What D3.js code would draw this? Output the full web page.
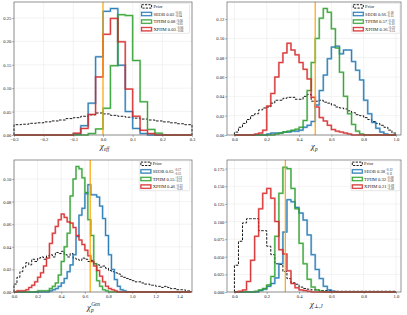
<!DOCTYPE html>
<html><head><meta charset="utf-8">
<script src="https://cdn.jsdelivr.net/npm/d3@7"></script>
<style>body{margin:0;background:#fff} svg{display:block}</style>
</head><body>
<svg id="chart" width="407" height="315"></svg>
<script>
// bin width shared by every histogram
var BIN = 0.025;

// chi_eff, 24 bins from -0.3
var effPrior = [0.022,0.023,0.025,0.026,0.028,0.030,0.032,0.035,0.037,0.040,0.043,0.047,0.045,0.042,0.040,0.038,0.036,0.034,0.032,0.030,0.028,0.026,0.024,0.022];
var effSEOB  = [0,0,0,0,0,0,0,0,0.002,0.020,0.068,0.167,0.264,0.270,0.149,0.050,0.014,0.003,0,0,0,0,0,0];
var effTPHM  = [0,0,0,0,0,0,0,0,0,0,0.003,0.013,0.057,0.148,0.257,0.255,0.159,0.071,0.012,0.004,0,0,0,0];
var effXPHM  = [0,0,0,0,0,0,0,0,0.004,0.014,0.044,0.124,0.215,0.249,0.199,0.098,0.040,0.010,0.003,0,0,0,0,0];
var effLabels = [["SEOB","0.02","+0.05","\u22120.04"],["TPHM","0.08","+0.06","\u22120.05"],["XPHM","0.03","+0.06","\u22120.06"]];

// chi_p, 40 bins from 0
var chipPrior = [0.003,0.008,0.012,0.016,0.020,0.022,0.026,0.028,0.029,0.033,0.036,0.036,0.038,0.039,0.039,0.037,0.037,0.040,0.042,0.035,0.035,0.036,0.034,0.033,0.031,0.029,0.028,0.027,0.025,0.023,0.021,0.020,0.018,0.016,0.014,0.012,0.010,0.008,0.005,0.002];
var chipSEOB  = [0,0,0,0,0,0,0,0,0.001,0.002,0.002,0.002,0.003,0.003,0.004,0.004,0.005,0.008,0.010,0.014,0.031,0.046,0.062,0.079,0.091,0.092,0.084,0.088,0.088,0.076,0.067,0.057,0.036,0.022,0.013,0.007,0.003,0.001,0,0];
var chipTPHM  = [0,0,0,0,0,0,0,0,0,0,0.001,0.002,0.003,0.004,0.005,0.006,0.008,0.015,0.046,0.075,0.100,0.121,0.131,0.127,0.110,0.090,0.065,0.040,0.022,0.011,0.004,0.001,0,0,0,0,0,0,0,0];
var chipXPHM  = [0,0,0,0,0,0.001,0.002,0.005,0.030,0.043,0.060,0.075,0.085,0.095,0.088,0.083,0.075,0.068,0.058,0.039,0.029,0.018,0.0145,0.010,0.0056,0.004,0.003,0.002,0.001,0,0,0,0,0,0,0,0,0,0,0];
var chipLabels = [["SEOB","0.66","+0.18","\u22120.15"],["TPHM","0.57","+0.10","\u22120.10"],["XPHM","0.36","+0.22","\u22120.15"]];

// chi_p^Gen, 60 bins from 0
var genPrior = [0.007,0.013,0.018,0.022,0.026,0.024,0.029,0.027,0.030,0.031,0.029,0.032,0.033,0.031,0.035,0.034,0.036,0.033,0.031,0.034,0.030,0.029,0.028,0.030,0.029,0.027,0.028,0.025,0.024,0.022,0.023,0.021,0.019,0.018,0.017,0.016,0.014,0.013,0.012,0.011,0.010,0.009,0.009,0.008,0.007,0.007,0.006,0.006,0.005,0.005,0.004,0.005,0.004,0.003,0.003,0.002,0.002,0.002,0.001,0.001];
var genSEOB  = [0,0,0,0,0,0,0,0,0,0,0,0,0.001,0.002,0.003,0.005,0.008,0.012,0.018,0.024,0.033,0.049,0.068,0.074,0.087,0.095,0.086,0.086,0.084,0.076,0.065,0.050,0.033,0.020,0.011,0.005,0.002,0.001,0,0,0,0,0,0,0,0,0,0,0,0,0,0,0,0,0,0,0,0,0,0];
var genTPHM  = [0,0,0,0,0,0,0,0,0.001,0.001,0.001,0.001,0.003,0.005,0.008,0.015,0.027,0.040,0.052,0.085,0.100,0.111,0.109,0.101,0.088,0.064,0.050,0.025,0.010,0.005,0.002,0.001,0,0,0,0,0,0,0,0,0,0,0,0,0,0,0,0,0,0,0,0,0,0,0,0,0,0,0,0];
var genXPHM  = [0,0.001,0.001,0.001,0.002,0.004,0.006,0.009,0.013,0.017,0.023,0.030,0.043,0.052,0.058,0.064,0.069,0.066,0.062,0.061,0.057,0.050,0.046,0.042,0.037,0.032,0.027,0.023,0.019,0.014,0.009,0.005,0.003,0.002,0.001,0,0,0,0,0,0,0,0,0,0,0,0,0,0,0,0,0,0,0,0,0,0,0,0,0];
var genLabels = [["SEOB","0.65","+0.17","\u22120.15"],["TPHM","0.55","+0.12","\u22120.11"],["XPHM","0.46","+0.23","\u22120.20"]];

// chi_perp,J, 40 bins from 0
var perpPrior = [0.038,0.072,0.098,0.104,0.104,0.104,0.087,0.087,0.065,0.053,0.040,0.039,0.029,0.019,0.013,0.011,0.007,0.005,0.004,0.003,0.003,0.002,0.002,0.002,0.001,0.001,0.001,0.001,0.001,0.001,0.001,0.001,0.001,0.001,0.001,0.001,0.001,0.001,0.001,0.001];
var perpSEOB  = [0,0,0,0,0,0,0.002,0.004,0.008,0.012,0.020,0.040,0.085,0.131,0.128,0.120,0.112,0.102,0.081,0.053,0.032,0.019,0.008,0.003,0.001,0,0,0,0,0,0,0,0,0,0,0,0,0,0,0];
var perpTPHM  = [0,0,0,0,0,0.001,0.003,0.005,0.010,0.022,0.079,0.140,0.177,0.175,0.147,0.118,0.069,0.040,0.018,0.007,0.003,0.001,0,0,0,0,0,0,0,0,0,0,0,0,0,0,0,0,0,0];
var perpXPHM  = [0,0.001,0.003,0.015,0.045,0.079,0.118,0.140,0.147,0.133,0.100,0.060,0.054,0.030,0.012,0.006,0.003,0.002,0.001,0,0,0,0,0,0,0,0,0,0,0,0,0,0,0,0,0,0,0,0,0];
var perpLabels = [["SEOB","0.38","+0.12","\u22120.11"],["TPHM","0.32","+0.08","\u22120.08"],["XPHM","0.21","+0.09","\u22120.09"]];

// injected values (orange lines)
var truths = [0.0, 0.5, 0.645, 0.315];

var colors = ["#1f77b4", "#2ca02c", "#d62728"];
var SERIF = "'Liberation Serif','DejaVu Serif',serif";

var panels = [
  {box:[14,192,2,135], xd:[-0.3,0.3], yd:[0,0.284], lo:-0.3, xt:[-0.3,-0.2,-0.1,0,0.1,0.2,0.3], xf:".1f",
   yt:[0,0.05,0.1,0.15,0.2,0.25], yf:".2f", prior:effPrior, series:[effSEOB,effTPHM,effXPHM], labels:effLabels,
   truth:truths[0], sub:"eff", sup:null, lab:[103,149.3], lg:[140,3.3,49.5]},
  {box:[227,401,2,135], xd:[-0.046,1.031], yd:[0,0.1377], lo:0, xt:[0,0.2,0.4,0.6,0.8,1.0], xf:".1f",
   yt:[0,0.02,0.04,0.06,0.08,0.10,0.12], yf:".2f", prior:chipPrior, series:[chipSEOB,chipTPHM,chipXPHM], labels:chipLabels,
   truth:truths[1], sub:"p", sup:null, lab:[314,149.3], lg:[351.7,3.3,48.3]},
  {box:[14,192,160,292], xd:[0,1.507], yd:[0,0.1168], lo:0, xt:[0,0.2,0.4,0.6,0.8,1.0,1.2,1.4], xf:".1f",
   yt:[0,0.02,0.04,0.06,0.08,0.10], yf:".2f", prior:genPrior, series:[genSEOB,genTPHM,genXPHM], labels:genLabels,
   truth:truths[2], sub:"p", sup:"Gen", lab:[90,310], lg:[139.3,160.7,50.5]},
  {box:[227,401,160,292], xd:[-0.046,1.031], yd:[0,0.1873], lo:0, xt:[0,0.2,0.4,0.6,0.8,1.0], xf:".1f",
   yt:[0,0.025,0.05,0.075,0.1,0.125,0.15,0.175], yf:".3f", prior:perpPrior, series:[perpSEOB,perpTPHM,perpXPHM], labels:perpLabels,
   truth:truths[3], sub:"\u22A5,J", sup:null, lab:[313,306.5], lg:[350.7,160.7,49.3]}
];

var svg = d3.select("#chart");

function stepPoints(vals, lo) {
  var pts = [[lo, 0]];
  vals.forEach(function (v, i) {
    pts.push([lo + i * BIN, v], [lo + (i + 1) * BIN, v]);
  });
  pts.push([lo + vals.length * BIN, 0]);
  return pts;
}

function fmtMinus(f) {
  return function (d) { return d3.format(f)(d).replace("-", "\u2212"); };
}

panels.forEach(function (p) {
  var L = p.box[0], R = p.box[1], T = p.box[2], B = p.box[3];
  var x = d3.scaleLinear().domain(p.xd).range([L, R]);
  var y = d3.scaleLinear().domain(p.yd).range([B, T]);
  var g = svg.append("g");

  // grid
  g.selectAll(".gx").data(p.xt).enter().append("line")
    .attr("x1", function (d) { return x(d); }).attr("x2", function (d) { return x(d); })
    .attr("y1", T).attr("y2", B)
    .attr("stroke", "#e6e6e6").attr("stroke-width", 0.5);
  g.selectAll(".gy").data(p.yt).enter().append("line")
    .attr("y1", function (d) { return y(d); }).attr("y2", function (d) { return y(d); })
    .attr("x1", L).attr("x2", R)
    .attr("stroke", "#e6e6e6").attr("stroke-width", 0.5);

  var line = d3.line().x(function (d) { return x(d[0]); }).y(function (d) { return y(d[1]); });

  // prior
  g.append("path").attr("d", line(stepPoints(p.prior, p.lo)))
    .attr("fill", "none").attr("stroke", "#000").attr("stroke-width", 0.9)
    .attr("stroke-dasharray", "2.6,1.4");

  // posteriors: translucent wide stroke with a thin solid core
  p.series.forEach(function (s, si) {
    var d = line(stepPoints(s, p.lo));
    g.append("path").attr("d", d).attr("fill", "none")
      .attr("stroke", colors[si]).attr("stroke-width", 2).attr("stroke-opacity", 0.45);
    g.append("path").attr("d", d).attr("fill", "none")
      .attr("stroke", colors[si]).attr("stroke-width", 0.9);
  });

  // injected value
  g.append("line").attr("x1", x(p.truth)).attr("x2", x(p.truth))
    .attr("y1", T).attr("y2", B)
    .attr("stroke", "#ffa500").attr("stroke-width", 1.2);

  // axes
  var ax = g.append("g").attr("transform", "translate(0," + B + ")")
    .call(d3.axisBottom(x).tickValues(p.xt).tickFormat(fmtMinus(p.xf)).tickSize(1.8).tickPadding(0.6));
  var ay = g.append("g").attr("transform", "translate(" + L + ",0)")
    .call(d3.axisLeft(y).tickValues(p.yt).tickFormat(fmtMinus(p.yf)).tickSize(1.8).tickPadding(0.8));
  [ax, ay].forEach(function (a) {
    a.select(".domain").remove();
    a.selectAll("line").attr("stroke", "#555").attr("stroke-width", 0.5);
    a.selectAll("text").attr("font-family", SERIF).attr("font-size", 4.6).attr("fill", "#222");
  });

  // frame
  g.append("rect").attr("x", L).attr("y", T).attr("width", R - L).attr("height", B - T)
    .attr("fill", "none").attr("stroke", "#666").attr("stroke-width", 0.7);

  // axis label
  var chi = g.append("text").attr("x", p.lab[0] - 3).attr("y", p.lab[1])
    .attr("font-family", SERIF).attr("font-style", "italic").attr("font-size", 8.5)
    .attr("fill", "#222").text("\u03C7");
  var cw = chi.node().getComputedTextLength();
  g.append("text").attr("x", p.lab[0] - 3 + cw + 0.2).attr("y", p.lab[1] + 1.8)
    .attr("font-family", SERIF).attr("font-style", "italic").attr("font-size", 5.3)
    .attr("fill", "#222").text(p.sub);
  if (p.sup) {
    g.append("text").attr("x", p.lab[0] - 3 + cw + 0.4).attr("y", p.lab[1] - 4.2)
      .attr("font-family", SERIF).attr("font-style", "italic").attr("font-size", 5.3)
      .attr("fill", "#222").text(p.sup);
  }

  // legend
  var lx = p.lg[0], ly = p.lg[1];
  var lg = g.append("g");
  lg.append("rect").attr("x", lx).attr("y", ly).attr("width", p.lg[2]).attr("height", 30)
    .attr("rx", 1).attr("fill", "#fff").attr("fill-opacity", 0.85)
    .attr("stroke", "#d0d0d0").attr("stroke-width", 0.5);
  var rows = [["Prior"]].concat(p.labels);
  rows.forEach(function (r, ri) {
    var cy = ly + 3.1 + ri * 7.6;
    var hx = lx + 1.6, hw = 10, hh = 3.4;
    if (ri === 0) {
      lg.append("rect").attr("x", hx).attr("y", cy - hh / 2).attr("width", hw).attr("height", hh)
        .attr("fill", "none").attr("stroke", "#000").attr("stroke-width", 0.9).attr("stroke-dasharray", "2.2,1.2");
    } else {
      lg.append("rect").attr("x", hx).attr("y", cy - hh / 2).attr("width", hw).attr("height", hh)
        .attr("fill", "none").attr("stroke", colors[ri - 1]).attr("stroke-width", 1.6).attr("stroke-opacity", 0.5);
      lg.append("rect").attr("x", hx).attr("y", cy - hh / 2).attr("width", hw).attr("height", hh)
        .attr("fill", "none").attr("stroke", colors[ri - 1]).attr("stroke-width", 0.7);
    }
    var tx = hx + hw + 1.8;
    var t = lg.append("text").attr("x", tx).attr("y", cy + 1.6)
      .attr("font-family", SERIF).attr("font-size", 4.6).attr("fill", "#222")
      .text(r.length === 1 ? r[0] : r[0] + " " + r[1]);
    var w = t.node().getComputedTextLength();
    if (r.length > 1) {
      lg.append("text").attr("x", tx + w + 0.3).attr("y", cy - 0.1)
        .attr("font-family", SERIF).attr("font-size", 3.1).attr("fill", "#222").text(r[2]);
      lg.append("text").attr("x", tx + w + 0.3).attr("y", cy + 3.1)
        .attr("font-family", SERIF).attr("font-size", 3.1).attr("fill", "#222").text(r[3]);
    }
  });
});
</script>
</body></html>
